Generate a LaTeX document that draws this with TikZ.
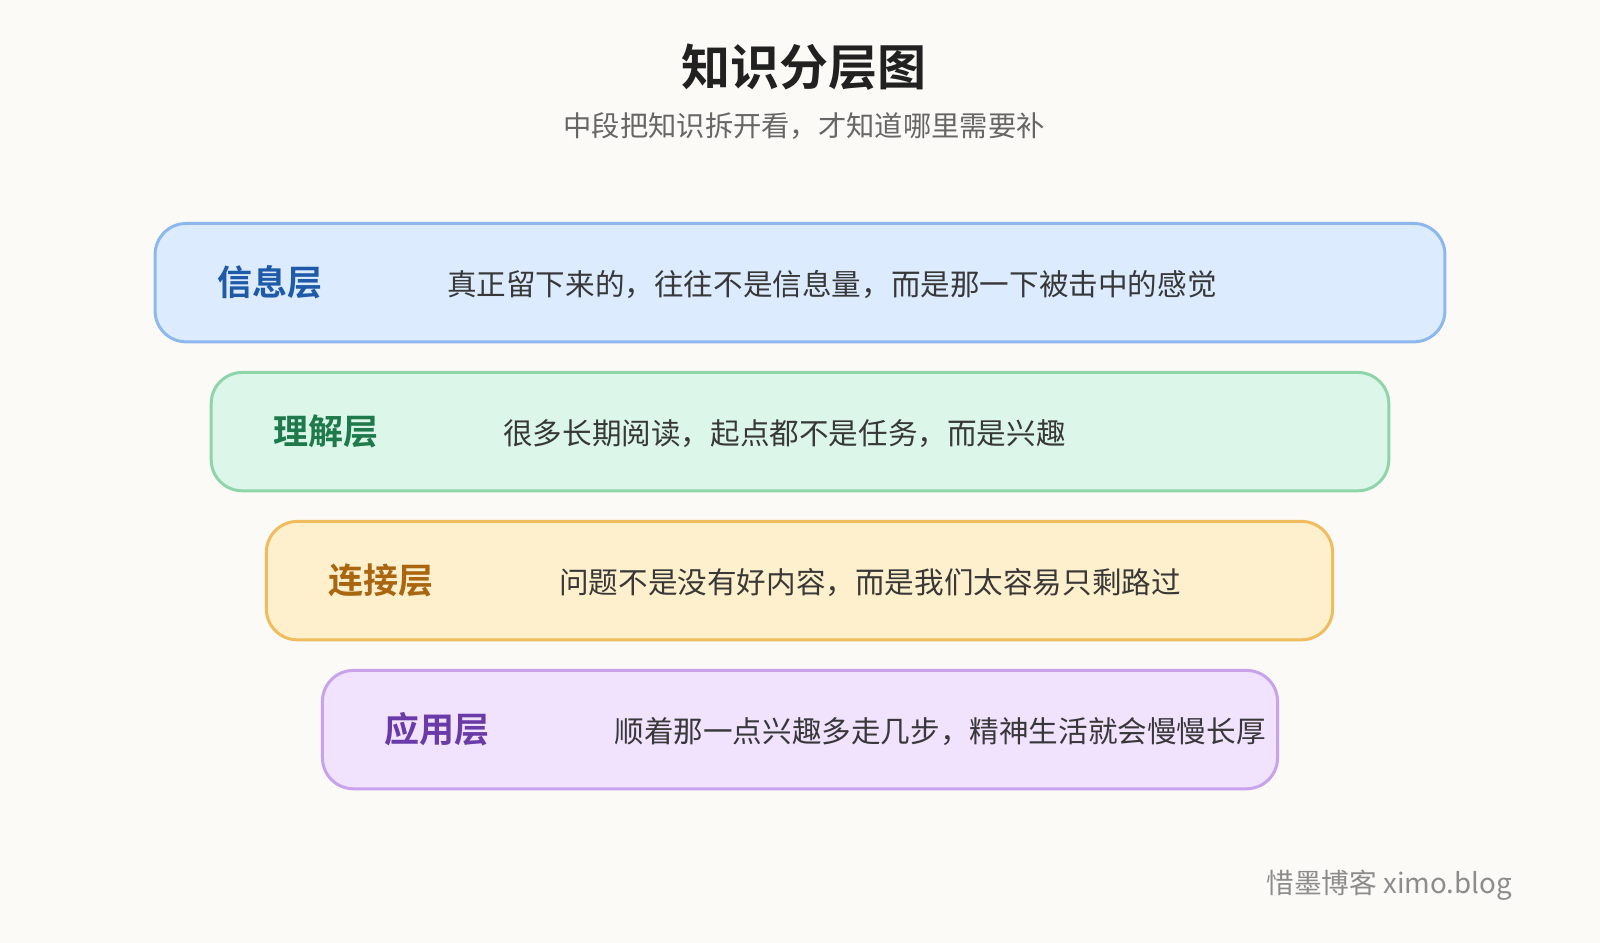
\documentclass[tikz,border=0pt]{standalone}
\usepackage{fontspec}
\setmainfont{Noto Sans CJK SC}[BoldFont={* Bold}]
\definecolor{bg}{HTML}{FBFAF6}
\definecolor{f1}{HTML}{DCEBFE}\definecolor{d1}{HTML}{8DB8EE}\definecolor{t1}{HTML}{1E5AA8}
\definecolor{f2}{HTML}{DCF7E9}\definecolor{d2}{HTML}{8ED6AA}\definecolor{t2}{HTML}{1E7A4A}
\definecolor{f3}{HTML}{FEF0CC}\definecolor{d3}{HTML}{F0BC5E}\definecolor{t3}{HTML}{A9650F}
\definecolor{f4}{HTML}{F1E2FE}\definecolor{d4}{HTML}{C9A2EC}\definecolor{t4}{HTML}{6A3AA8}
\begin{document}
\begin{tikzpicture}[x=1.0204pt,y=-1.0204pt,
 layer/.style={draw,line width=3pt,rounded corners=31pt},
 lab/.style={anchor=west,font=\fontsize{35}{40}\selectfont\bfseries,inner sep=0},
 body/.style={anchor=west,font=\fontsize{29.6}{34}\selectfont,text=black!78,inner sep=0}]
\fill[bg] (0,0) rectangle (1568,924);
\useasboundingbox (0,0) rectangle (1568,924);
\node (title) at (788,66) {\fontsize{49}{56}\selectfont\bfseries\color{black!87}知识分层图};
\node (sub) at (788,124) {\fontsize{28.3}{32}\selectfont\color{black!60}中段把知识拆开看，才知道哪里需要补};
\draw[layer,fill=f1,draw=d1] (152,219) rectangle (1416,335);
\node[lab,text=t1] (l1) at (213,277) {信息层};
\node[body] (b1) at (438,279) {真正留下来的，往往不是信息量，而是那一下被击中的感觉};
\draw[layer,fill=f2,draw=d2] (207,365) rectangle (1361,481);
\node[lab,text=t2] (l2) at (268,423) {理解层};
\node[body] (b2) at (493,425) {很多长期阅读，起点都不是任务，而是兴趣};
\draw[layer,fill=f3,draw=d3] (261,511) rectangle (1306,627);
\node[lab,text=t3] (l3) at (322,569) {连接层};
\node[body] (b3) at (548,571) {问题不是没有好内容，而是我们太容易只剩路过};
\draw[layer,fill=f4,draw=d4] (316,657) rectangle (1252,773);
\node[lab,text=t4] (l4) at (377,715) {应用层};
\node[body] (b4) at (602,717) {顺着那一点兴趣多走几步，精神生活就会慢慢长厚};
\node[anchor=east,inner sep=0] (wm) at (1482,867) {\fontsize{27.7}{32}\selectfont\color{black!45}惜墨博客 ximo.blog};
\end{tikzpicture}
\end{document}
